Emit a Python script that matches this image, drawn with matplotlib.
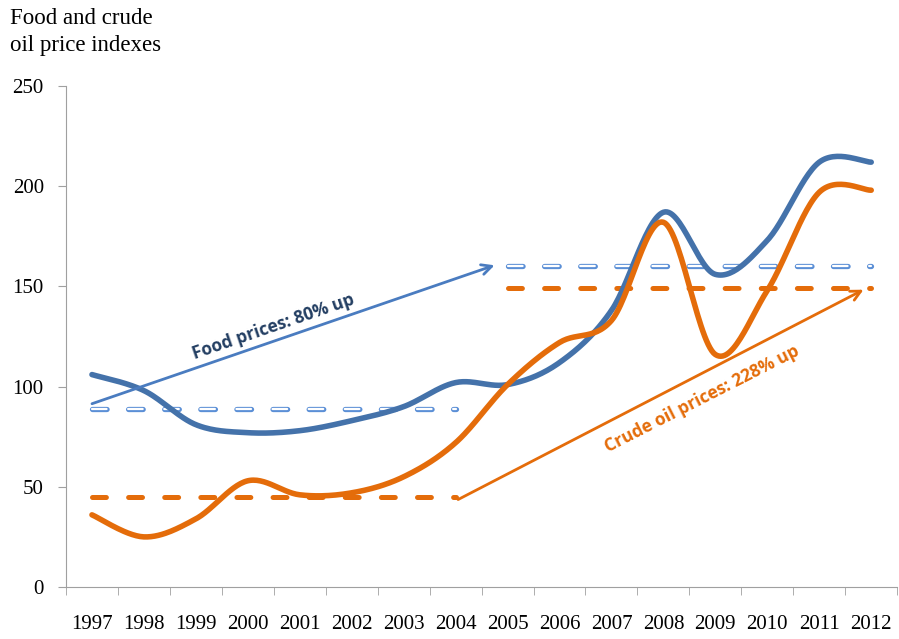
import matplotlib
matplotlib.use("Agg")
import matplotlib.pyplot as plt
import numpy as np

# years on the category axis
years = ['1997', '1998', '1999', '2000', '2001', '2002', '2003', '2004',
         '2005', '2006', '2007', '2008', '2009', '2010', '2011', '2012']

# index values
food = [106, 98, 81, 77, 78, 83, 90, 102, 101, 112, 138, 187, 156, 173, 212, 212]
oil = [36, 25, 34, 53, 46, 47, 55, 72, 101, 122, 133, 182, 116, 148, 197, 198]

# period averages (dashed)
food_avg = [89, 160]
oil_avg = [45, 149]
first_period = (0, 7)
second_period = (8, 15)

BLUE = '#4472AA'
LIGHT_BLUE = '#5B8FD6'
ORANGE = '#E46C0A'
NAVY = '#233E62'


def smooth(xs, ys, n=30):
    # catmull-rom style bezier, similar to excel smoothed lines
    xs = np.asarray(xs, float)
    ys = np.asarray(ys, float)
    px = np.concatenate([[xs[0]], xs, [xs[-1]]])
    py = np.concatenate([[ys[0]], ys, [ys[-1]]])
    outx, outy = [], []
    t = np.linspace(0, 1, n)
    for i in range(1, len(px) - 2):
        p0 = np.array([px[i], py[i]])
        p3 = np.array([px[i + 1], py[i + 1]])
        c1 = p0 + (np.array([px[i + 1], py[i + 1]]) - np.array([px[i - 1], py[i - 1]])) / 6
        c2 = p3 - (np.array([px[i + 2], py[i + 2]]) - np.array([px[i], py[i]])) / 6
        b = ((1 - t) ** 3)[:, None] * p0 + (3 * (1 - t) ** 2 * t)[:, None] * c1 \
            + (3 * (1 - t) * t ** 2)[:, None] * c2 + (t ** 3)[:, None] * p3
        outx.extend(b[:, 0])
        outy.extend(b[:, 1])
    return outx, outy


plt.rcParams['lines.scale_dashes'] = False
fig = plt.figure(figsize=(8.99, 6.39), dpi=100)
ax = fig.add_axes([0.0734, 0.0814, 0.9246, 0.784])

x = np.arange(len(years))

# dashed average lines
for (a, b), v in zip([first_period, second_period], oil_avg):
    ax.plot([a, b], [v, v], color=ORANGE, lw=3.6, dashes=(10, 16),
            dash_capstyle='round', zorder=2)
for (a, b), v in zip([first_period, second_period], food_avg):
    ax.plot([a, b], [v, v], color=LIGHT_BLUE, lw=3.8, dashes=(10.5, 15.5),
            dash_capstyle='round', zorder=2)
    ax.plot([a, b], [v, v], color='white', lw=1.6, dashes=(10.5, 15.5),
            dash_capstyle='round', zorder=2.1)

sx, sy = smooth(x, food)
ax.plot(sx, sy, color=BLUE, lw=4, solid_capstyle='round', zorder=3)
sx, sy = smooth(x, oil)
ax.plot(sx, sy, color=ORANGE, lw=4, solid_capstyle='round', zorder=3)

# arrows
ax.annotate('', xy=(7.8, 161), xytext=(-0.05, 91),
            arrowprops=dict(arrowstyle='->', color='#4A7CC0', lw=2,
                            mutation_scale=18), zorder=4)
ax.annotate('', xy=(14.9, 149), xytext=(7.0, 43),
            arrowprops=dict(arrowstyle='->', color=ORANGE, lw=2,
                            mutation_scale=18), zorder=4)

ax.text(3.5, 130, 'Food prices: 80% up', rotation=19, color=NAVY,
        fontsize=12.5, fontweight='bold', family='Open Sans',
        ha='center', va='center', rotation_mode='anchor')
ax.text(11.75, 94, 'Crude oil prices: 228% up', rotation=27, color=ORANGE,
        fontsize=12.5, fontweight='bold', family='Open Sans',
        ha='center', va='center', rotation_mode='anchor')

ax.set_xlim(-0.5, len(years) - 0.5)
ax.set_ylim(0, 250)
ax.set_yticks([0, 50, 100, 150, 200, 250])
ax.set_xticks(x)
ax.set_xticklabels(years)
ax.set_xticks(np.arange(-0.5, len(years)), minor=True)
ax.tick_params(axis='x', which='major', length=0, pad=20)
ax.tick_params(axis='x', which='minor', length=6, color='#A0A0A0')
ax.tick_params(axis='y', length=6, color='#A0A0A0', pad=10)
for lab in ax.get_xticklabels() + ax.get_yticklabels():
    lab.set_family('Liberation Serif')
    lab.set_fontsize(15)
for s in ['top', 'right']:
    ax.spines[s].set_visible(False)
for s in ['left', 'bottom']:
    ax.spines[s].set_color('#A0A0A0')

fig.text(0.011, 0.988, 'Food and crude\noil price indexes', family='Liberation Serif',
         fontsize=16.5, ha='left', va='top', linespacing=1.4)

fig.savefig('out.png', dpi=100)
